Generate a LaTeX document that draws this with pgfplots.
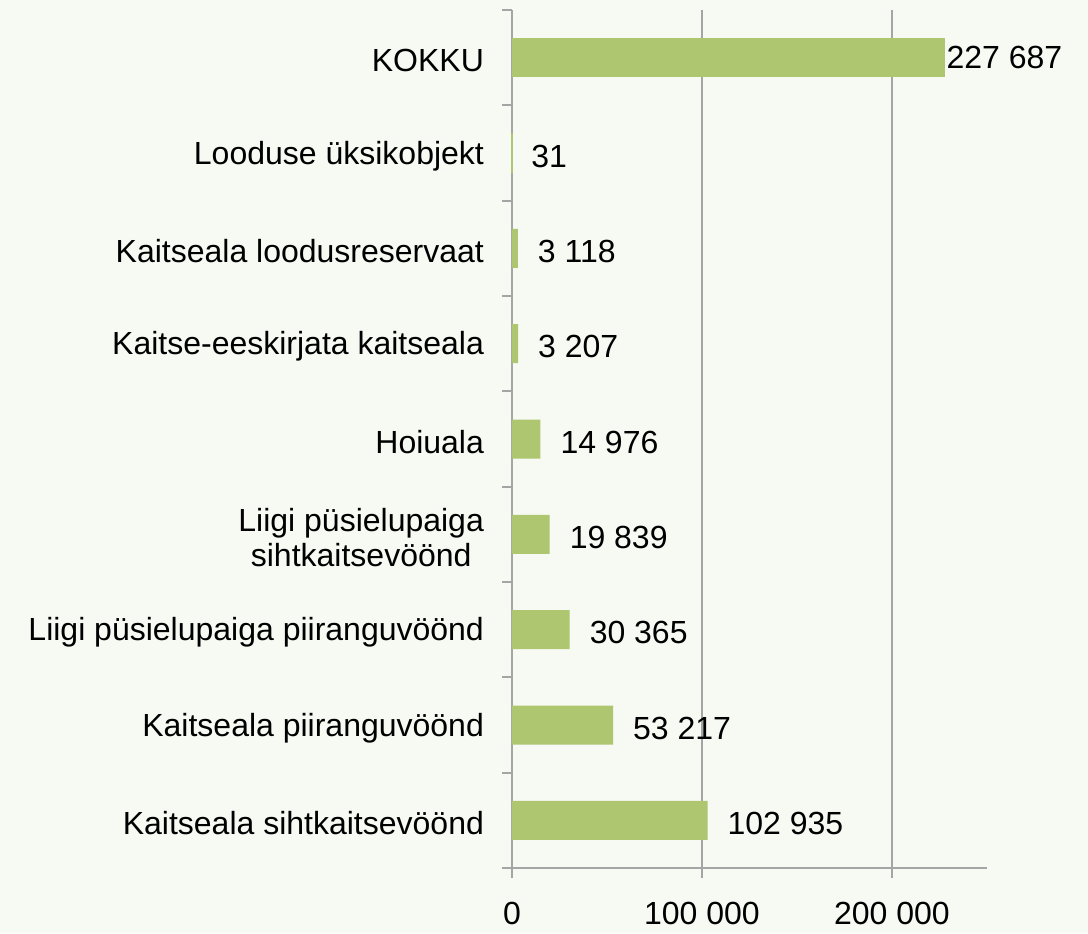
\documentclass[border=0pt]{standalone}
\usepackage{fontspec}
\setmainfont{Liberation Sans}
\usepackage{pgfplots}
\pgfplotsset{compat=1.18}
\usetikzlibrary{backgrounds}
\definecolor{bgc}{HTML}{F7F9F3}
\definecolor{barc}{HTML}{ADC66F}
\definecolor{axc}{HTML}{A5A5A5}
\begin{document}
\begin{tikzpicture}
\begin{axis}[name=ax, scale only axis, width=237.5pt, height=429pt,
  xmin=0, xmax=250000, ymin=-0.5, ymax=8.5,
  axis lines*=left,
  axis line style={draw=axc, line width=1pt},
  every tick/.style={draw=axc, line width=1pt},
  tick align=outside,
  major tick length=5pt,
  xtick={0,100000,200000}, xticklabels={0,100 000,200 000},
  xmajorgrids, grid style={draw=axc, line width=1pt},
  ytick={-0.5,0.5,...,8.5}, yticklabels={},
  extra y ticks={0,1,2,3,4,5,6,7,8},
  extra y tick labels={Kaitseala sihtkaitsevöönd, Kaitseala piiranguvöönd, Liigi püsielupaiga piiranguvöönd, {Liigi püsielupaiga\\sihtkaitsevöönd\ }, Hoiuala, Kaitse-eeskirjata kaitseala, Kaitseala loodusreservaat, Looduse üksikobjekt, KOKKU},
  extra y tick style={major tick length=0pt, yticklabel style={align=center, xshift=-10.5pt, yshift=-1.5pt}},
  every tick label/.append style={font=\fontsize{16}{17.5}\selectfont, text=black},
  xticklabel style={yshift=-8.5pt},
  clip=false,
]
\addplot[xbar, bar width=19.5pt, bar shift=0pt, fill=barc, draw=none,
  nodes near coords, point meta=explicit symbolic,
  every node near coord/.append style={anchor=west, xshift=6.5pt, yshift=-1.5pt, font=\fontsize{16}{17.5}\selectfont, text=black}]
  coordinates {(102935,0)[102 935] (53217,1)[53 217] (30365,2)[30 365] (19839,3)[19 839] (14976,4)[14 976] (3207,5)[3 207] (3118,6)[3 118]};
\addplot[xbar, bar width=19pt, bar shift=0pt, fill=barc, draw=barc, line width=0.6pt,
  nodes near coords, point meta=explicit symbolic,
  every node near coord/.append style={anchor=west, xshift=6pt, yshift=-1.5pt, font=\fontsize{16}{17.5}\selectfont, text=black}]
  coordinates {(31,7)[31]};
\addplot[xbar, bar width=19.5pt, bar shift=0pt, fill=barc, draw=none,
  nodes near coords, point meta=explicit symbolic,
  every node near coord/.append style={anchor=west, xshift=-2.5pt, font=\fontsize{16}{17.5}\selectfont, text=black}]
  coordinates {(227687,8)[227 687]};
\end{axis}
\pgfresetboundingbox
\begin{scope}[on background layer]
\fill[bgc] ([xshift=-256pt,yshift=-32.5pt]ax.south west) rectangle ([xshift=288pt,yshift=434pt]ax.south west);
\end{scope}
\end{tikzpicture}
\end{document}
